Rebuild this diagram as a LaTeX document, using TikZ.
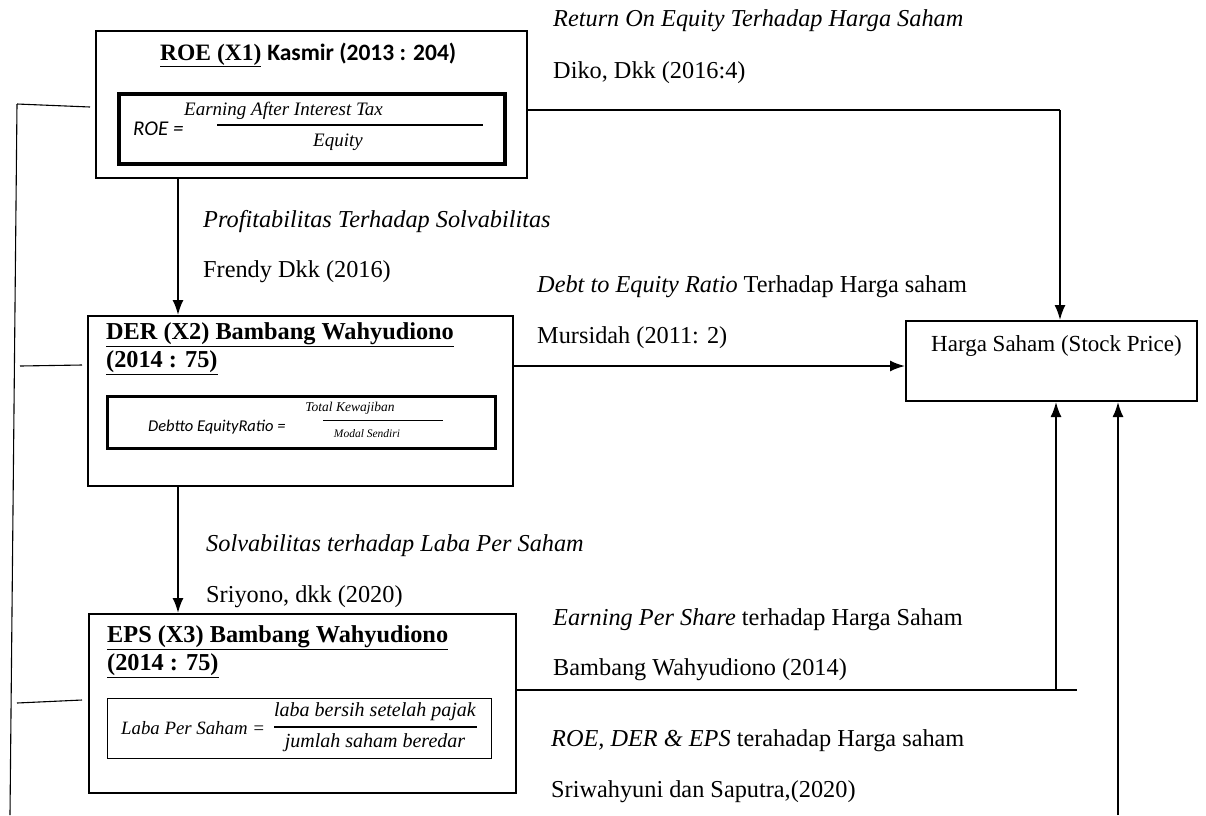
\documentclass[tikz,border=0pt]{standalone}
\usepackage{fontspec}
\setmainfont{Liberation Serif}
\newfontfamily\calfont{Carlito}
\usetikzlibrary{arrows.meta,calc}
\begin{document}
\begin{tikzpicture}[x=1pt,y=-1pt,
  box/.style={draw, line width=2pt, anchor=north west, inner sep=0pt},
  lbl/.style={anchor=west, inner sep=0pt, font=\fontsize{24.3}{28}\selectfont},
  ttl/.style={anchor=west, inner sep=0pt, font=\fontsize{24.3}{28}\selectfont\bfseries},
  fml/.style={inner sep=0pt},
  arr/.style={-{Latex[length=15pt,width=11pt]}, line width=1.8pt},
  thinline/.style={line width=1.1pt}]
\useasboundingbox (0,0) rectangle (1206,815);

% ROE box
\node[box, minimum width=431pt, minimum height=147pt] (roe) at (95,30) {};
\node[box, line width=4pt, minimum width=386pt, minimum height=70pt] (roein) at (117,92) {};
\node[ttl, font=\fontsize{23.5}{28}\selectfont\bfseries] (roet) at (160,55) {\underline{ROE (X1)} {\calfont Kasmir (2013 : 204)}};
\node[fml, anchor=west, font=\fontsize{21}{24}\selectfont\calfont\itshape] (roel) at (133,129) {ROE =};
\node[fml, anchor=west, font=\fontsize{19}{22}\selectfont\itshape] (roen) at (184,111) {Earning After Interest Tax};
\node[fml, font=\fontsize{19}{22}\selectfont\itshape] (roed) at (338,142) {Equity};
\draw[line width=1.3pt] (217,125) -- (483,125);

% DER box
\node[box, minimum width=425pt, minimum height=170pt] (der) at (87,315) {};
\node[ttl] (dert1) at (106,335) {\underline{DER (X2) Bambang Wahyudiono}};
\node[ttl] (dert2) at (106,363) {\underline{(2014 : 75)}};
\node[box, line width=2.6pt, minimum width=388pt, minimum height=52pt] (derin) at (106,395) {};
\node[fml, anchor=west, font=\fontsize{16.5}{19}\selectfont\calfont\itshape] (derl) at (148,427) {Debtto EquityRatio =};
\node[fml, font=\fontsize{13.5}{16}\selectfont\itshape] (dern) at (350,408) {Total Kewajiban};
\node[fml, font=\fontsize{11.5}{14}\selectfont\itshape] (derd) at (367,434) {Modal Sendiri};
\draw[line width=1pt] (323,420) -- (443,420);

% EPS box
\node[box, minimum width=427pt, minimum height=179pt] (eps) at (88,613) {};
\node[ttl] (epst1) at (107,638) {\underline{EPS (X3) Bambang Wahyudiono}};
\node[ttl] (epst2) at (107,666) {\underline{(2014 : 75)}};
\node[box, line width=0.9pt, minimum width=384pt, minimum height=60pt] (epsin) at (107,698) {};
\node[fml, anchor=west, font=\fontsize{18.8}{22}\selectfont\itshape] (epsl) at (121,728) {Laba Per Saham =};
\node[fml, font=\fontsize{20}{22}\selectfont\itshape] (epsn) at (375,712) {laba bersih setelah pajak};
\node[fml, font=\fontsize{20}{22}\selectfont\itshape] (epsd) at (375,743) {jumlah saham beredar};
\draw[line width=1.3pt] (274,727) -- (477,727);

% Harga Saham box
\node[box, minimum width=291pt, minimum height=80pt] (hs) at (905,320) {};
\node[lbl, font=\fontsize{23}{26}\selectfont] (hst) at (931,346) {Harga Saham (Stock Price)};

% labels
\node[lbl] (l1a) at (553,21) {\textit{Return On Equity Terhadap Harga Saham}};
\node[lbl] (l1b) at (553,73) {Diko, Dkk (2016:4)};
\node[lbl] (l2a) at (203,222) {\textit{Profitabilitas Terhadap Solvabilitas}};
\node[lbl] (l2b) at (203,272) {Frendy Dkk (2016)};
\node[lbl] (l3a) at (537,287) {\textit{Debt to Equity Ratio} Terhadap Harga saham};
\node[lbl] (l3b) at (537,338) {Mursidah (2011: 2)};
\node[lbl] (l4a) at (206,546) {\textit{Solvabilitas terhadap Laba Per Saham}};
\node[lbl] (l4b) at (206,597) {Sriyono, dkk (2020)};
\node[lbl] (l5a) at (553,620) {\textit{Earning Per Share} terhadap Harga Saham};
\node[lbl] (l5b) at (553,670) {Bambang Wahyudiono (2014)};
\node[lbl] (l6a) at (551,741) {\textit{ROE, DER \& EPS} terahadap Harga saham};
\node[lbl] (l6b) at (551,792) {Sriwahyuni dan Saputra,(2020)};

% connectors
\coordinate (a1) at (178,0);
\draw[arr] (roe.south -| a1) -- (der.north -| a1);
\draw[arr] (der.south -| a1) -- (eps.north -| a1);

\coordinate (k1) at (1060,110);
\draw[thinline] (roe.east |- k1) -- (k1);
\draw[arr] (k1) -- (hs.north -| k1);

\coordinate (k2) at (0,366);
\draw[arr] (der.east |- k2) -- (hs.west |- k2);

\coordinate (k3) at (1056,690);
\coordinate (k3e) at (1077,690);
\draw[thinline] (eps.east |- k3) -- (k3e);
\draw[arr] (k3) -- (hs.south -| k3);

\coordinate (k4) at (1118,815);
\draw[arr] (k4) -- (hs.south -| k4);

% left bracket
\coordinate (b1) at (17,104);
\coordinate (b2) at (10,815);
\draw[thinline] (b1) -- (b2);
\draw[thinline] (b1) -- (90,107);
\draw[thinline] (20,366) -- (82,365);
\draw[thinline] (17,703) -- (82,700);
\end{tikzpicture}
\end{document}
